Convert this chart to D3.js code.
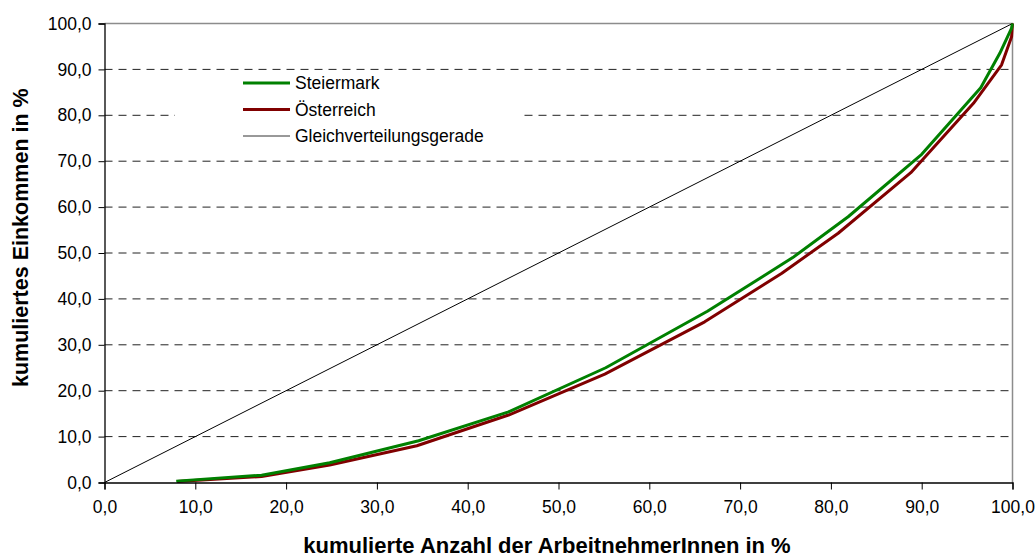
<!DOCTYPE html>
<html>
<head>
<meta charset="utf-8">
<script src="https://cdn.jsdelivr.net/npm/d3@7"></script>
<style>
  body { margin: 0; background: white; }
</style>
</head>
<body>
<script>
// Paramètres
const width = 1036;
const height = 559;
const margin = { top: 23.5, right: 23.5, bottom: 76.5, left: 104.5 };

// Données : Lorenzkurven (x = kumulierte Anzahl, y = kumuliertes Einkommen)
const steiermarkX = [7.9, 17.3, 24.8, 34.6, 44.5, 55.2, 66.4, 75.8, 81.9, 90.0, 96.5, 98.6, 99.9, 100];
const steiermarkY = [0.3, 1.6, 4.3, 9.1, 15.4, 25.0, 37.3, 49.0, 57.9, 71.5, 86.0, 93.5, 99.0, 100];
const oesterreichX = [8.0, 17.3, 24.8, 34.4, 44.5, 55.1, 66.1, 74.6, 80.8, 88.8, 95.7, 98.8, 99.9, 100];
const oesterreichY = [0.2, 1.3, 3.8, 8.0, 14.7, 23.6, 35.0, 45.6, 54.3, 67.5, 82.6, 91.0, 97.1, 100];
const gleichX = [0, 100];
const gleichY = [0, 100];
const ticks = [0, 10, 20, 30, 40, 50, 60, 70, 80, 90, 100];

const series = [
  { name: 'Steiermark', xs: steiermarkX, ys: steiermarkY, color: '#008000', w: 3 },
  { name: 'Österreich', xs: oesterreichX, ys: oesterreichY, color: '#800000', w: 3 },
  { name: 'Gleichverteilungsgerade', xs: gleichX, ys: gleichY, color: '#000000', w: 1 }
];

const fmt = d => d.toFixed(1).replace('.', ',');

const svg = d3.select('body')
              .append('svg')
              .attr('width', width)
              .attr('height', height)
              .style('font-family', 'Arial, "Liberation Sans", sans-serif');

const x = d3.scaleLinear()
            .domain([0, 100])
            .range([margin.left, width - margin.right]);

const y = d3.scaleLinear()
            .domain([0, 100])
            .range([height - margin.bottom, margin.top]);

// Gitterlinien
svg.append('g')
   .selectAll('line')
     .data(ticks.filter(t => t > 0 && t < 100))
     .enter()
     .append('line')
     .attr('x1', x(0))
     .attr('x2', x(100))
     .attr('y1', d => y(d))
     .attr('y2', d => y(d))
     .attr('stroke', '#222')
     .attr('stroke-dasharray', '8,6');

// Rahmen oben und rechts
svg.append('path')
   .attr('d', `M${x(0)},${y(100)}H${x(100)}V${y(0)}`)
   .attr('fill', 'none')
   .attr('stroke', '#8c8c8c')
   .attr('stroke-width', 1.5);

// Legende Hintergrund
svg.append('rect')
   .attr('x', 175).attr('y', 75)
   .attr('width', 345).attr('height', 75)
   .attr('fill', 'white');

// Linien
const line = s => d3.line()
                    .x((d, i) => x(s.xs[i]))
                    .y(d => y(d))(s.ys);

svg.append('g')
   .selectAll('path')
     .data(series.slice().reverse())
     .enter()
     .append('path')
     .attr('d', line)
     .attr('fill', 'none')
     .attr('stroke', d => d.color)
     .attr('stroke-width', d => d.w)
     .attr('stroke-linejoin', 'round');

// Achsen
const xAxis = svg.append('g')
   .attr('transform', `translate(0, ${y(0)})`)
   .call(d3.axisBottom(x).tickValues(ticks).tickFormat(fmt).tickSize(7).tickPadding(11));

const yAxis = svg.append('g')
   .attr('transform', `translate(${x(0)}, 0)`)
   .call(d3.axisLeft(y).tickValues(ticks).tickFormat(fmt).tickSize(6).tickPadding(7));

[xAxis, yAxis].forEach(g => {
  g.select('.domain').attr('stroke', '#000').attr('stroke-width', 1.3);
  g.selectAll('.tick line').attr('stroke', '#000');
  g.selectAll('.tick text')
   .attr('fill', '#000')
   .style('font-size', '17.5px')
   .style('font-family', 'Arial, "Liberation Sans", sans-serif');
});

// Legende
const legend = svg.append('g')
   .selectAll('g')
     .data(series)
     .enter()
     .append('g')
     .attr('transform', (d, i) => `translate(243, ${83 + i * 26.5})`);

legend.append('line')
      .attr('x1', 0).attr('x2', 47)
      .attr('stroke', d => d.color === '#000000' ? '#333' : d.color)
      .attr('stroke-width', d => d.w);

legend.append('text')
      .attr('x', 52)
      .attr('dy', '0.35em')
      .style('font-size', '17.5px')
      .text(d => d.name);

// Achsentitel
svg.append('text')
   .attr('x', 547)
   .attr('y', 553)
   .attr('text-anchor', 'middle')
   .style('font-size', '22px')
   .style('font-weight', 'bold')
   .text('kumulierte Anzahl der ArbeitnehmerInnen in %');

svg.append('clipPath')
   .attr('id', 'yclip')
   .append('rect')
   .attr('x', 0).attr('y', 88)
   .attr('width', 60).attr('height', 400);

svg.append('g')
   .attr('clip-path', 'url(#yclip)')
   .append('text')
   .attr('transform', 'translate(28, 387) rotate(-90)')
   .attr('text-anchor', 'start')
   .style('font-size', '21.5px')
   .style('font-weight', 'bold')
   .text('kumuliertes Einkommen in %');
</script>
</body>
</html>
